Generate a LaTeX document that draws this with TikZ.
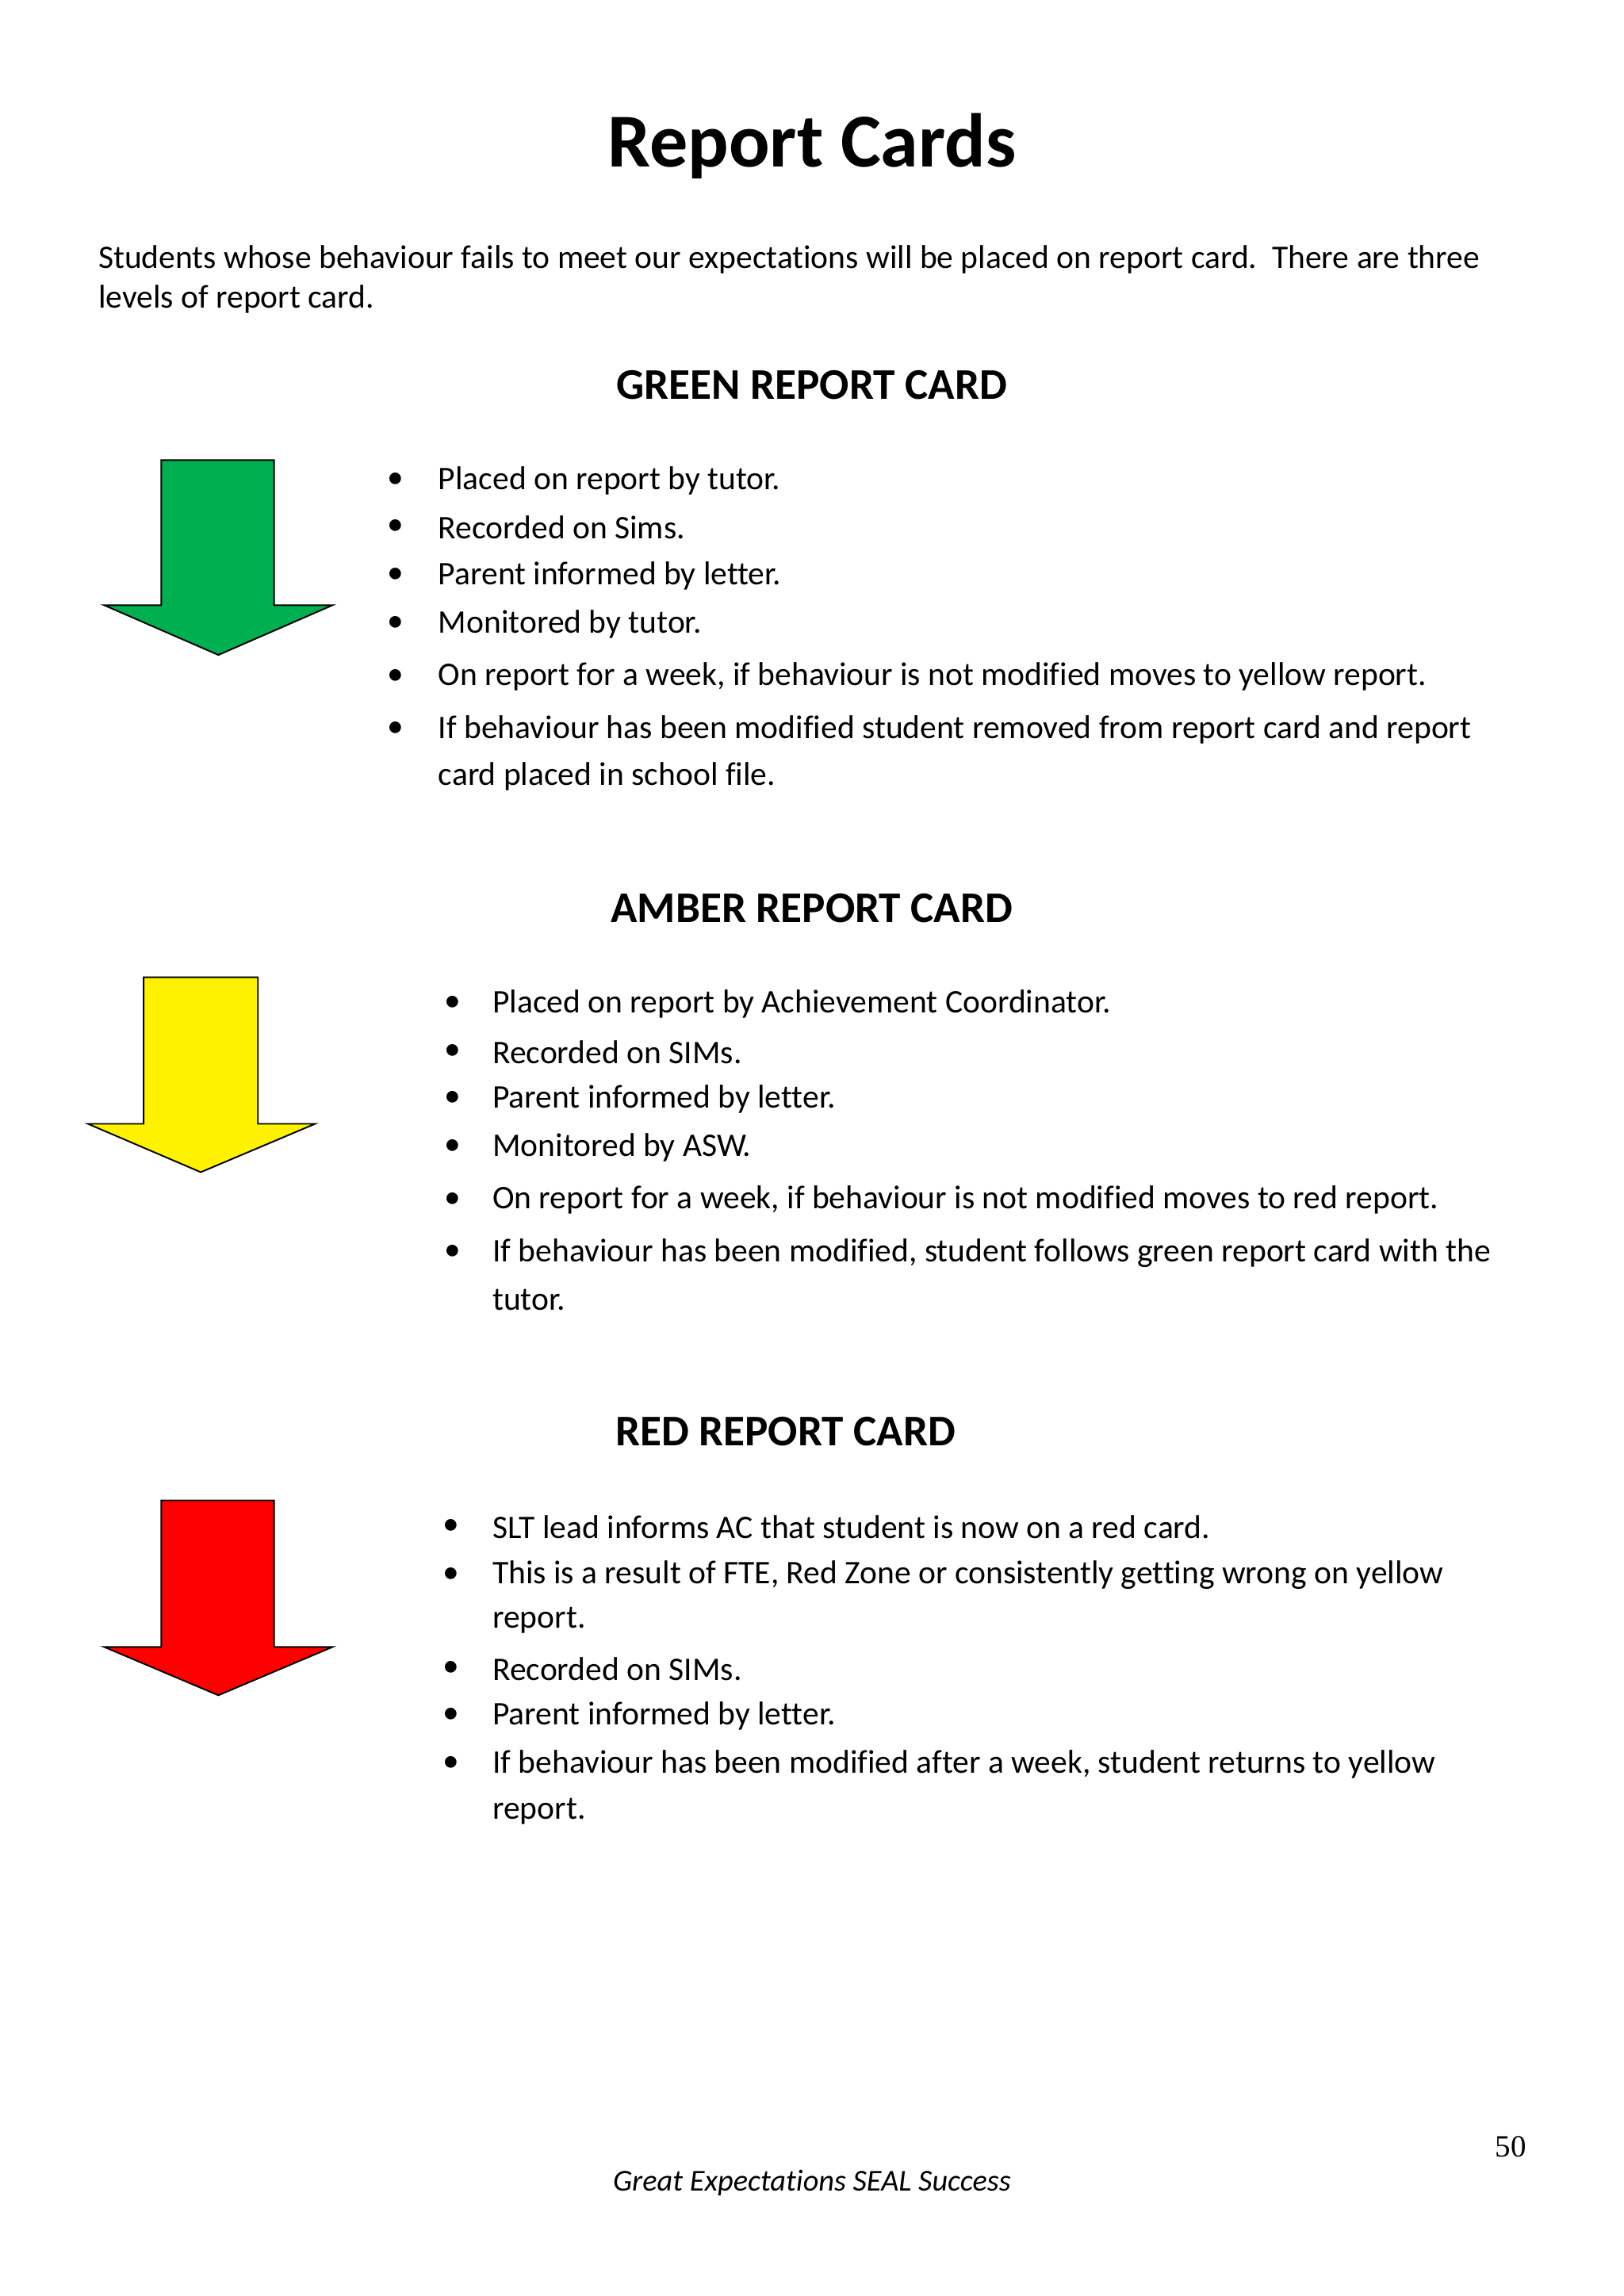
\documentclass[tikz,border=0pt]{standalone}
\usepackage{fontspec}
\setmainfont{Carlito}[Ligatures=NoCommon]
\newfontfamily\tnr{Liberation Serif}
\begin{document}
\begin{tikzpicture}[x=0.05cm,y=-0.05cm,
  body/.style={anchor=west,inner sep=0pt,font=\fontsize{32}{38}\selectfont},
  bul/.style={anchor=center,inner sep=0pt,font=\fontsize{32}{38}\selectfont},
  head/.style={anchor=center,inner sep=0pt,font=\fontsize{42.5}{50}\selectfont\bfseries},
  arr/.style={draw=black,line width=1.5pt}]
\useasboundingbox (0,0) rectangle (1108,1567);
\fill[white] (0,0) rectangle (1108,1567);
\node[anchor=center,inner sep=0pt,font=\fontsize{74}{88}\selectfont\bfseries] (title) at (554,100) {Report Cards};
\node[body] (i1) at (67,177) {Students whose behaviour fails to meet our expectations will be placed on report card.\ \ There are three};
\node[body] (i2) at (67,204) {levels of report card.};
% GREEN
\node[head] (gh) at (554,263) {GREEN REPORT CARD};
\draw[arr,fill={rgb,255:red,0;green,176;blue,80}] (110,314)--(187,314)--(187,413)--(227,413)--(149,447)--(71,413)--(110,413)--cycle;
\foreach \y/\t in {328/Placed on report by tutor., 360/Recorded on Sims., 393/Parent informed by letter., 426/Monitored by tutor., 462/{On report for a week, if behaviour is not modified moves to yellow report.}, 498/If behaviour has been modified student removed from report card and report}{
  \node[bul] at (270,\y) {\textbullet};
  \node[body] at (299,\y) {\t};}
\node[body] (g7) at (299,530) {card placed in school file.};
% AMBER
\node[head] (ah) at (554,620) {AMBER REPORT CARD};
\draw[arr,fill=yellow] (98,667)--(176,667)--(176,767)--(215,767)--(137,800)--(60,767)--(98,767)--cycle;
\foreach \y/\t in {685/Placed on report by Achievement Coordinator., 718/Recorded on SIMs., 750/Parent informed by letter., 783/Monitored by ASW., 819/{On report for a week, if behaviour is not modified moves to red report.}, 855/{If behaviour has been modified, student follows green report card with the}}{
  \node[bul] at (309,\y) {\textbullet};
  \node[body] at (336,\y) {\t};}
\node[body] (a7) at (336,887) {tutor.};
% RED
\node[head] (rh) at (536,977) {RED REPORT CARD};
\draw[arr,fill=red] (110,1024)--(187,1024)--(187,1124)--(227,1124)--(149,1157)--(71,1124)--(110,1124)--cycle;
\foreach \y/\t in {1042/SLT lead informs AC that student is now on a red card., 1075/{This is a result of FTE, Red Zone or consistently getting wrong on yellow}, 1139/Recorded on SIMs., 1171/Parent informed by letter., 1204/{If behaviour has been modified after a week, student returns to yellow}}{
  \node[bul] at (308,\y) {\textbullet};
  \node[body] at (336,\y) {\t};}
\node[body] (r3) at (336,1106) {report.};
\node[body] (r8) at (336,1236) {report.};
\node[anchor=center,inner sep=0pt,font=\tnr\fontsize{30}{36}\selectfont] (pg) at (1031,1465) {50};
\node[anchor=center,inner sep=0pt,font=\fontsize{29.5}{34}\selectfont\itshape] (ft) at (554,1490) {Great Expectations SEAL Success};
\end{tikzpicture}
\end{document}
